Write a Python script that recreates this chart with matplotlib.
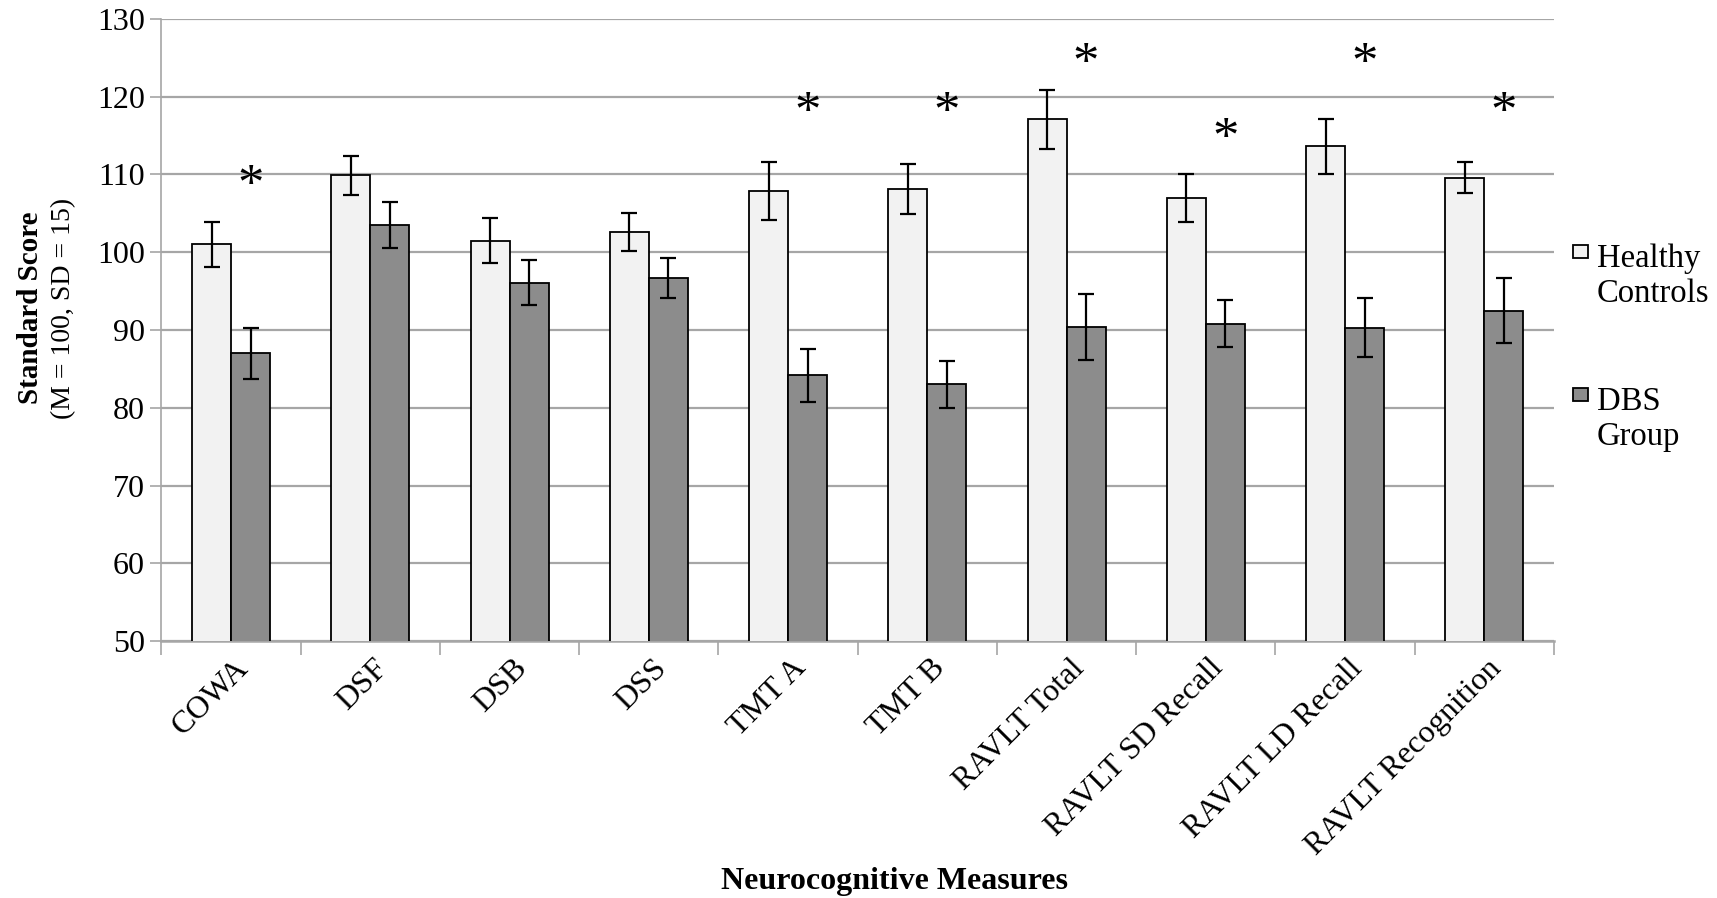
import matplotlib

matplotlib.use("Agg")

import numpy as np
import matplotlib.pyplot as plt
from matplotlib.patches import Rectangle
from matplotlib.transforms import ScaledTranslation

plt.rcParams["font.family"] = ["Liberation Serif", "DejaVu Serif"]

# data
measures = ["COWA", "DSF", "DSB", "DSS", "TMT A", "TMT B", "RAVLT Total",
            "RAVLT SD Recall", "RAVLT LD Recall", "RAVLT Recognition"]
groups = ["Healthy\nControls", "DBS\nGroup"]
healthy = [101.0, 109.9, 101.5, 102.6, 107.9, 108.1, 117.1, 107.0, 113.6, 109.6]
healthy_err = [2.9, 2.5, 2.9, 2.4, 3.7, 3.2, 3.8, 3.1, 3.5, 2.0]
dbs = [87.0, 103.5, 96.1, 96.7, 84.2, 83.0, 90.4, 90.8, 90.3, 92.5]
dbs_err = [3.3, 2.9, 2.9, 2.6, 3.4, 3.0, 4.2, 3.0, 3.8, 4.2]
star_y = [110.2, None, None, None, 119.5, 119.5, 125.8, 116.2, 125.8, 119.5]

colors = ["#F2F2F2", "#8C8C8C"]

fig = plt.figure(figsize=(17.17, 8.98), dpi=100)
ax = fig.add_axes([0.094, 0.286, 0.811, 0.693])

x = np.arange(len(measures))
w = 0.28
err_kw = dict(ecolor="black", elinewidth=1.6, capsize=6, capthick=1.6)
ax.bar(x - w / 2, healthy, w, yerr=healthy_err, color=colors[0],
       edgecolor="black", linewidth=1.3, error_kw=err_kw, zorder=3)
ax.bar(x + w / 2, dbs, w, yerr=dbs_err, color=colors[1],
       edgecolor="black", linewidth=1.3, error_kw=err_kw, zorder=3)

# significance stars over the DBS bars
for xi, sy in zip(x, star_y):
    if sy is not None:
        ax.annotate("*", (xi + w / 2, sy), xytext=(0, -10),
                    textcoords="offset points", ha="center", va="center",
                    fontsize=38, zorder=4)

ax.set_ylim(50, 130)
ax.set_xlim(-0.5, len(measures) - 0.5)
ax.set_yticks(range(50, 131, 10))
ax.yaxis.grid(True, color="#A6A6A6", linewidth=1.6, zorder=0)
ax.set_axisbelow(True)
for s in ["top", "right"]:
    ax.spines[s].set_visible(False)
ax.spines["left"].set_color("#A6A6A6")
ax.spines["left"].set_linewidth(1.2)
ax.spines["bottom"].set_color("#A6A6A6")
ax.spines["bottom"].set_linewidth(1.8)

# boundary ticks as major, labels on minor ticks at category centres
ax.set_xticks(np.arange(-0.5, len(measures), 1.0))
ax.set_xticklabels([])
ax.set_xticks(x, minor=True)
ax.set_xticklabels(measures, minor=True, rotation=45, ha="right",
                   rotation_mode="anchor", fontsize=23)
ax.tick_params(axis="x", which="major", length=10, color="#A6A6A6", width=1.2)
ax.tick_params(axis="x", which="minor", length=0, pad=9)
ax.tick_params(axis="y", length=8, color="#A6A6A6", width=1.2, labelsize=23,
               pad=4)
off = ScaledTranslation(0.03, 0, fig.dpi_scale_trans)
for lbl in ax.get_xticklabels(minor=True):
    lbl.set_transform(lbl.get_transform() + off)

fig.text(0.521, 0.010, "Neurocognitive Measures", ha="center", va="baseline",
         fontsize=23, fontweight="bold")
fig.text(0.018, 0.657, "Standard Score", rotation=90, ha="center",
         va="center", fontsize=21, fontweight="bold")
fig.text(0.037, 0.657, "(M = 100, SD = 15)", rotation=90, ha="center",
         va="center", fontsize=20)

# legend drawn by hand: square beside the first line of each label
legend_base = [0.7027, 0.5434]
for name, col, yb in zip(groups, colors, legend_base):
    fig.patches.append(Rectangle((0.9162, yb + 0.0105), 0.0087, 0.0145,
                                 transform=fig.transFigure, facecolor=col,
                                 edgecolor="black", linewidth=1.3))
    for k, line in enumerate(name.split("\n")):
        fig.text(0.930, yb - k * 0.039, line, ha="left", va="baseline",
                 fontsize=23.5)

fig.savefig("out.png", dpi=100)
